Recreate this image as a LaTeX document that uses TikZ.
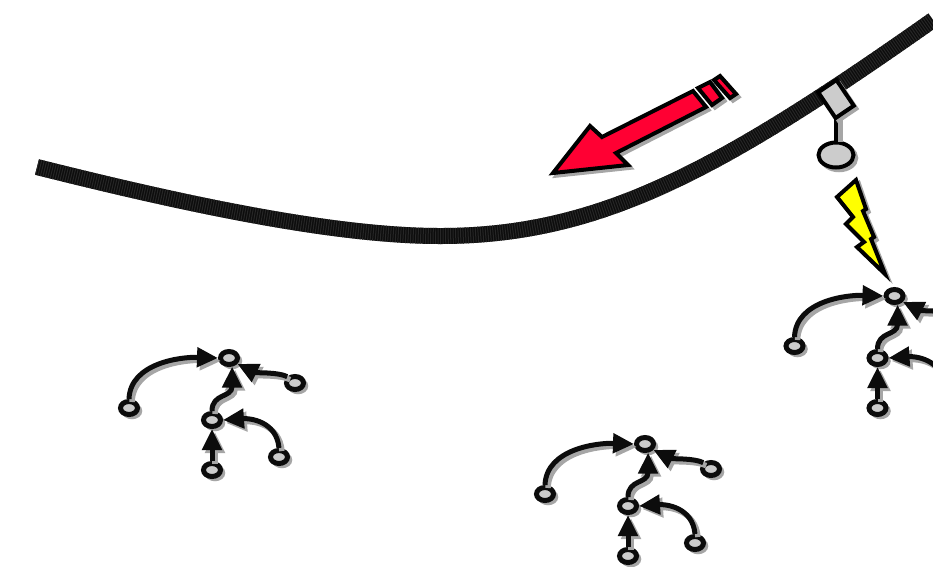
\documentclass[tikz,border=0pt]{standalone}
\usetikzlibrary{arrows.meta,shadows,shapes.geometric}
\definecolor{shgray}{HTML}{A6A6A6}
\definecolor{bulbgray}{HTML}{CCCCCC}
\definecolor{tubeblk}{HTML}{0C0C0C}
\definecolor{tubegray}{HTML}{262626}
\definecolor{arrowred}{HTML}{FF0033}
\definecolor{boltyel}{HTML}{FFFF00}
\tikzset{
  castshadow/.style={general shadow={shadow xshift=0.06cm,shadow yshift=-0.06cm,fill=shgray,draw=shgray,line width=0.07cm}},
  shapeline/.style={draw=black,line width=0.08cm,line join=miter,castshadow},
  treenode/.style={ellipse,draw=tubeblk,line width=0.1cm,fill=bulbgray,inner sep=0pt,minimum width=0.34cm,minimum height=0.26cm,castshadow},
  treelink/.style={-{Triangle[length=0.42cm,width=0.38cm]},tubeblk,line width=0.1cm,
    preaction={draw=shgray,line width=0.11cm,transform canvas={xshift=0.06cm,yshift=-0.06cm}}},
}
\begin{document}
\begin{tikzpicture}[x=0.02cm,y=-0.02cm]
\useasboundingbox (0,0) rectangle (933,566);
\clip (0,0) rectangle (933,566);

% Cable
\draw[tubeblk,line width=0.32cm]
  (37,167) .. controls (200,208) and (340,236) .. (440,236) .. controls (600,236) and (720,170) .. (933,20);
\draw[tubegray,line width=0.32cm,dash pattern=on 0.02cm off 0.03cm]
  (37,167) .. controls (200,208) and (340,236) .. (440,236) .. controls (600,236) and (720,170) .. (933,20);

% Clamp and bulb
\node[ellipse,shapeline,fill=bulbgray,inner sep=0pt,minimum width=0.7cm,minimum height=0.5cm] (bulb) at (836,155) {};
\draw[black,line width=0.08cm,preaction={draw=shgray,line width=0.1cm,transform canvas={xshift=0.08cm,yshift=-0.02cm}}] (836,115) -- (bulb.north);
\node[rectangle,shapeline,fill=bulbgray,inner sep=0pt,minimum width=0.62cm,minimum height=0.44cm,rotate=-56] (clamp) at (836,99) {};

% Red arrow
\draw[shapeline,fill=arrowred] (553,173) -- (590,126) -- (602,137) -- (693,91) -- (706,107) -- (616,153) -- (628,165) -- cycle;
\draw[shapeline,fill=arrowred] (698,88) -- (710,82) -- (722,98) -- (712,105) -- cycle;
\draw[shapeline,fill=arrowred] (714,80) -- (720,76) -- (736,94) -- (730,98) -- cycle;

% Lightning
\draw[shapeline,fill=boltyel] (856,180) -- (866,209) -- (863,211) -- (874,237) -- (871,239) -- (885,274)
  -- (857,247) -- (864,242) -- (846,224) -- (853,217) -- (837,197) -- cycle;

% Trees
\foreach \px/\py/\tn in {0/0/a, 416/86/b, 665.5/-62/c} {
  \begin{scope}[shift={(\px,\py)},name prefix=\tn-]
    \node[treenode] (top) at (229,358) {};
    \node[treenode] (left) at (129,408) {};
    \node[treenode] (right) at (295,383) {};
    \node[treenode] (mid) at (212,420) {};
    \node[treenode] (bottom) at (212,470) {};
    \node[treenode] (low) at (279,457) {};
    \draw[treelink] (left.north) to[out=88,in=178,looseness=0.95] (top.west);
    \draw[treelink] (right.north west) .. controls (278,372) and (256,373) .. (top.-35);
    \draw[treelink] (mid.north) .. controls (212,393) and (232,398) .. (top.-70);
    \draw[treelink] (low.north) to[out=95,in=4,looseness=1.1] (mid.east);
    \draw[treelink] (bottom.north) -- (mid.south);
  \end{scope}
}
\end{tikzpicture}
\end{document}
